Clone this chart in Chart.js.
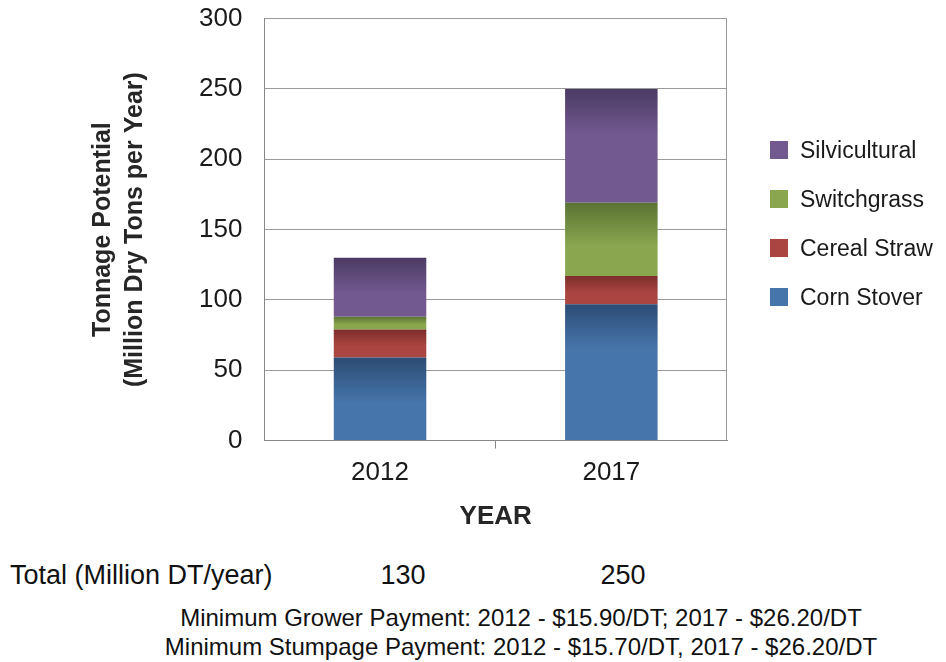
<!DOCTYPE html>
<html>
<head>
<meta charset="utf-8">
<script src="https://cdn.jsdelivr.net/npm/chart.js@4.4.1/dist/chart.umd.min.js"></script>
<style>
  body { margin: 0; background: #fff; font-family: "Liberation Sans", Arial, sans-serif; color: #111; }
  #wrap { position: relative; width: 946px; height: 662px; overflow: hidden; }
  #chart { position: absolute; left: 0; top: -19px; }
  .note { position: absolute; white-space: nowrap; }
  #totLabel { left: 10px; top: 559px; font-size: 27px; line-height: 32px; }
  .tot { top: 559px; font-size: 27px; line-height: 32px; transform: translateX(-50%); }
  #pay { left: 521px; top: 604px; font-size: 24px; line-height: 28.5px; text-align: center; transform: translateX(-50%); }
  #legend { position: absolute; left: 770px; top: 136px; }
  .lg-item { display: flex; align-items: center; height: 28px; margin-bottom: 21px; font-size: 23px; color: #1a1a1a; white-space: nowrap; }
  .lg-box { width: 18px; height: 18px; margin-right: 12px; flex: none; }
</style>
</head>
<body>
<div id="wrap">
  <canvas id="chart" width="946" height="565"></canvas>
  <div id="legend"></div>
  <div class="note" id="totLabel">Total (Million DT/year)</div>
  <div class="note tot" id="tot0" style="left:403px"></div>
  <div class="note tot" id="tot1" style="left:623px"></div>
  <div class="note" id="pay">Minimum Grower Payment: 2012 - $15.90/DT; 2017 - $26.20/DT<br>Minimum Stumpage Payment: 2012 - $15.70/DT, 2017 - $26.20/DT</div>
</div>
<script>
// data
const years = ["2012", "2017"];
const cornStover = [59, 97];
const cerealStraw = [20, 20];
const switchgrass = [9, 52];
const silvicultural = [42, 81];
const totals = [130, 250];
const yTicks = [0, 50, 100, 150, 200, 250, 300];

// colour per series: [dark top, body]
const palette = {
    corn: ["#2d4c74", "#4675ab"],
    straw: ["#7c2e2b", "#aa4541"],
    switch: ["#5b7434", "#8aa74f"],
    silv: ["#4b3b64", "#72598f"]
};

const stacks = [cornStover, cerealStraw, switchgrass, silvicultural];

// vertical gradient for each stacked segment, darker at the top
function segmentFill(colors, seriesIdx) {
    return function (ctx) {
        const chart = ctx.chart;
        const y = chart.scales && chart.scales.y;
        if (!chart.chartArea || !y || ctx.type !== "data") return colors[1];
        const i = ctx.dataIndex;
        let base = 0;
        for (let s = 0; s < seriesIdx; s++) base += stacks[s][i];
        const top = base + stacks[seriesIdx][i];
        const yTop = y.getPixelForValue(top);
        const yBot = y.getPixelForValue(base);
        if (!isFinite(yTop) || !isFinite(yBot) || yBot - yTop < 1) return colors[1];
        const g = chart.ctx.createLinearGradient(0, yTop, 0, yBot);
        g.addColorStop(0, colors[0]);
        g.addColorStop(Math.min(0.6, 45 / (yBot - yTop)), colors[1]);
        g.addColorStop(1, colors[1]);
        return g;
    };
}

function makeSet(label, data, colors, idx) {
    return {
        label: label,
        data: data,
        backgroundColor: segmentFill(colors, idx),
        swatch: colors[1],
        borderWidth: 0,
        barPercentage: 0.4,
        categoryPercentage: 1.0
    };
}

// right edge of the plot frame
const rightFrame = {
    id: "rightFrame",
    afterDatasetsDraw(chart) {
        const a = chart.chartArea;
        const c = chart.ctx;
        c.save();
        c.strokeStyle = "#999";
        c.lineWidth = 1;
        c.beginPath();
        c.moveTo(Math.round(a.right) - 0.5, a.top);
        c.lineTo(Math.round(a.right) - 0.5, a.bottom);
        c.stroke();
        c.restore();
    }
};

// legend built from the chart's datasets, top series first
function renderLegend(chart) {
    const box = document.getElementById("legend");
    box.innerHTML = chart.data.datasets.slice().reverse().map(ds => `
        <div class="lg-item"><span class="lg-box" style="background:${ds.swatch}"></span>${ds.label}</div>
    `).join("");
}

function renderChart() {
    const canvas = document.getElementById("chart");
    const chart = new Chart(canvas, {
        type: "bar",
        data: {
            labels: years,
            datasets: [
                makeSet("Corn Stover", cornStover, palette.corn, 0),
                makeSet("Cereal Straw", cerealStraw, palette.straw, 1),
                makeSet("Switchgrass", switchgrass, palette.switch, 2),
                makeSet("Silvicultural", silvicultural, palette.silv, 3)
            ]
        },
        plugins: [rightFrame],
        options: {
            responsive: false,
            animation: false,
            layout: { padding: { left: 87, right: 219, top: -13, bottom: 10 } },
            plugins: {
                tooltip: { enabled: false },
                legend: { display: false }
            },
            scales: {
                x: {
                    stacked: true,
                    offset: true,
                    grid: {
                        display: true,
                        offset: true,
                        drawOnChartArea: false,
                        tickLength: 8,
                        // only the middle divider tick shows below the axis
                        color: c => (c.index === 1 ? "#888" : "rgba(0,0,0,0)")
                    },
                    border: { color: "#888" },
                    ticks: { color: "#1a1a1a", padding: 9, font: { family: "Liberation Sans", size: 26 } },
                    title: {
                        display: true,
                        text: "YEAR",
                        color: "#262626",
                        padding: { top: 3 },
                        font: { family: "Liberation Sans", size: 26, weight: "bold" }
                    }
                },
                y: {
                    stacked: true,
                    min: 0,
                    max: 300,
                    afterBuildTicks: axis => { axis.ticks = yTicks.map(v => ({ value: v })); },
                    grid: { color: "#9a9a9a", drawTicks: false },
                    border: { color: "#888" },
                    ticks: { color: "#1a1a1a", padding: 22, font: { family: "Liberation Sans", size: 26 } },
                    title: {
                        display: true,
                        text: ["Tonnage Potential", "(Million Dry Tons per Year)"],
                        color: "#262626",
                        padding: { top: 0, bottom: 26 },
                        font: { family: "Liberation Sans", size: 25, weight: "bold", lineHeight: 1.28 }
                    }
                }
            }
        }
    });

    renderLegend(chart);
    totals.forEach((t, i) => { document.getElementById("tot" + i).textContent = t; });
}

renderChart();
</script>
</body>
</html>
